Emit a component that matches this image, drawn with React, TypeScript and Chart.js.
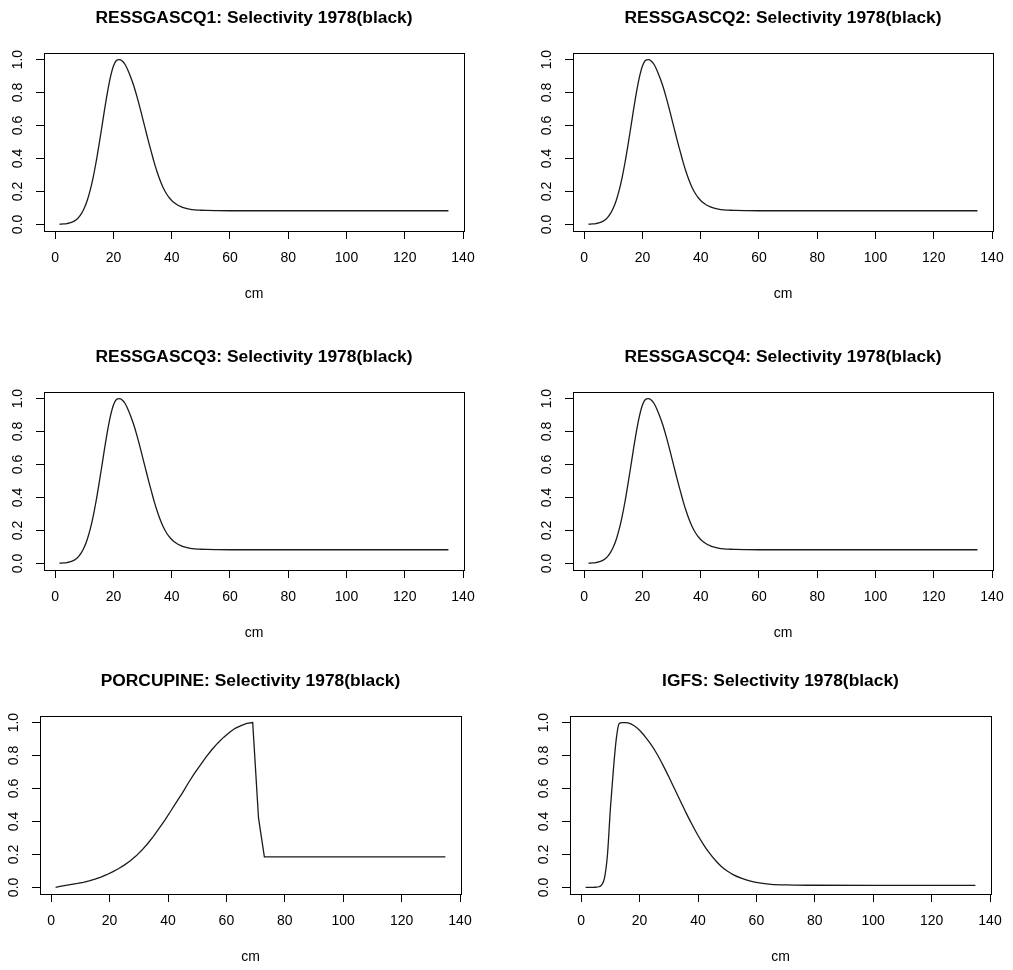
import React, { useEffect, useRef } from "react";
import { Chart, registerables } from "chart.js";

Chart.register(...registerables);

// ---- axis ticks ----
const xTicks = [0, 20, 40, 60, 80, 100, 120, 140];
const yTicks = [0, 0.2, 0.4, 0.6, 0.8, 1.0];
const xLabel = "cm";
const X_MIN = -3.84;
const X_MAX = 140.34;
const Y_MIN = -0.04;
const Y_MAX = 1.04;

// ---- RESSGASCQ1..4 (identical selectivity curves) ----
const ressLengths = [
  1.5, 3, 4, 5, 6, 7, 8, 9, 10, 11,
  12, 13, 14, 15, 16, 17, 18, 19, 20, 21,
  22, 23, 24, 25, 26, 27, 28, 29, 30, 31,
  32, 33, 34, 35, 36, 37, 38, 39, 40, 41,
  42, 43, 44, 46, 48, 50, 52, 55, 60, 70,
  80, 100, 120, 135,
];
const ressSelectivity = [
  0.001, 0.003, 0.005, 0.009, 0.015, 0.025, 0.041, 0.065, 0.099, 0.145,
  0.206, 0.283, 0.374, 0.478, 0.589, 0.702, 0.807, 0.896, 0.961, 0.994,
  1.0, 0.992, 0.97, 0.934, 0.89, 0.84, 0.78, 0.715, 0.645, 0.575,
  0.505, 0.44, 0.375, 0.318, 0.268, 0.226, 0.192, 0.165, 0.145, 0.13,
  0.118, 0.109, 0.102, 0.093, 0.088, 0.086, 0.085, 0.084, 0.083, 0.083,
  0.083, 0.083, 0.083, 0.083,
];

// ---- PORCUPINE ----
const porcupineLengths = [
  1.5, 3, 5, 7, 9, 11, 13, 15, 17, 19,
  21, 23, 25, 27, 29, 31, 33, 35, 37, 39,
  41, 43, 45, 47, 49, 51, 53, 55, 57, 59,
  61, 63, 65, 67, 69, 71, 73, 80, 100, 120, 135,
];
const porcupineSelectivity = [
  0.0, 0.006, 0.012, 0.018, 0.024, 0.031, 0.039, 0.05, 0.063, 0.077,
  0.094, 0.113, 0.135, 0.16, 0.19, 0.225, 0.265, 0.31, 0.36, 0.41,
  0.465, 0.52, 0.575, 0.635, 0.69, 0.74, 0.79, 0.835, 0.875, 0.91,
  0.94, 0.965, 0.982, 0.995, 1.0, 0.42, 0.185, 0.185, 0.185, 0.185, 0.185,
];

// ---- IGFS ----
const igfsLengths = [
  1.5, 3, 4, 5, 6, 7, 8, 9, 10, 11,
  12, 13, 14, 15, 16, 18, 20, 22, 24, 26,
  28, 30, 32, 34, 36, 38, 40, 42, 44, 46,
  48, 50, 52, 55, 58, 61, 65, 70, 80, 100, 135,
];
const igfsSelectivity = [
  0, 0, 0, 0.001, 0.004, 0.015, 0.06, 0.2, 0.48, 0.71,
  0.9, 0.995, 1.0, 1.0, 0.998, 0.982, 0.953, 0.912, 0.865, 0.808,
  0.742, 0.671, 0.597, 0.523, 0.449, 0.38, 0.315, 0.257, 0.206, 0.163,
  0.127, 0.099, 0.078, 0.055, 0.038, 0.027, 0.019, 0.015, 0.013, 0.012, 0.012,
];

const surveyNames = ["RESSGASCQ1", "RESSGASCQ2", "RESSGASCQ3", "RESSGASCQ4", "PORCUPINE", "IGFS"];
const titleSuffix = ": Selectivity 1978(black)";

const FONT = "'Liberation Sans', Arial, Helvetica, sans-serif";

const boxPlugin = {
  id: "rbox",
  afterDraw(chart: any) {
    const { ctx, chartArea } = chart;
    const l = Math.round(chartArea.left) + 0.5;
    const t = Math.round(chartArea.top) + 0.5;
    const w = Math.round(chartArea.right) - Math.round(chartArea.left);
    const h = Math.round(chartArea.bottom) - Math.round(chartArea.top);
    ctx.save();
    ctx.strokeStyle = "#000";
    ctx.lineWidth = 1;
    ctx.strokeRect(l, t, w, h);
    ctx.restore();
  },
};

type PanelProps = {
  title: string;
  lengths: number[];
  values: number[];
  left: number;
  top: number;
  plotWidth: number;
  smooth: boolean;
};

function Panel({ title, lengths, values, left, top, plotWidth, smooth }: PanelProps) {
  const ref = useRef<HTMLCanvasElement>(null);
  const width = plotWidth + 88;
  const height = 323;

  useEffect(() => {
    const gridOpts = {
      display: true,
      drawOnChartArea: false,
      drawTicks: true,
      tickLength: 8,
      color: "#000",
      lineWidth: 1,
    };
    const chart = new Chart(ref.current as HTMLCanvasElement, {
      type: "line",
      data: {
        datasets: [
          {
            data: lengths.map((x, i) => ({ x, y: values[i] })),
            borderColor: "#1a1a1a",
            borderWidth: 1.3,
            pointRadius: 0,
            tension: 0,
            cubicInterpolationMode: smooth ? "monotone" : "default",
            fill: false,
          },
        ],
      },
      options: {
        responsive: false,
        animation: false,
        events: [],
        layout: { padding: { left: 0, right: 44, top: 0, bottom: 20 } },
        plugins: {
          legend: { display: false },
          tooltip: { enabled: false },
          title: {
            display: true,
            fullSize: false,
            text: title,
            color: "#000",
            font: { family: FONT, size: 17.4, weight: "bold", lineHeight: 1.2 },
            padding: { top: 8, bottom: 24.1 },
          },
        },
        scales: {
          x: {
            type: "linear",
            min: X_MIN,
            max: X_MAX,
            afterBuildTicks: (s: any) => {
              s.ticks = xTicks.map((v) => ({ value: v }));
            },
            afterFit: (s: any) => {
              s.height = 72;
            },
            grid: gridOpts,
            border: { display: false },
            ticks: {
              color: "#000",
              font: { family: FONT, size: 14, lineHeight: 1.2 },
              padding: 11,
              maxRotation: 0,
              minRotation: 0,
              autoSkip: false,
              callback: (v: any) => String(v),
            },
            title: {
              display: true,
              text: xLabel,
              color: "#000",
              font: { family: FONT, size: 14, lineHeight: 1.2 },
              padding: { top: 0, bottom: 0 },
            },
          },
          y: {
            type: "linear",
            min: Y_MIN,
            max: Y_MAX,
            afterBuildTicks: (s: any) => {
              s.ticks = yTicks.map((v) => ({ value: v }));
            },
            afterFit: (s: any) => {
              s.width = 44;
            },
            grid: gridOpts,
            border: { display: false },
            ticks: {
              color: "#000",
              font: { family: FONT, size: 14, lineHeight: 1.2 },
              padding: 8,
              minRotation: 90,
              maxRotation: 90,
              crossAlign: "center",
              autoSkip: false,
              callback: (v: any) => Number(v).toFixed(1),
            },
          },
        },
      } as any,
      plugins: [boxPlugin],
    });
    return () => chart.destroy();
  }, [title, lengths, values, smooth]);

  return (
    <canvas
      ref={ref}
      width={width}
      height={height}
      style={{ position: "absolute", left, top, width, height }}
    />
  );
}

const panels = [
  { name: surveyNames[0], lengths: ressLengths, values: ressSelectivity, left: 0, top: 0, plotWidth: 420, smooth: true },
  { name: surveyNames[1], lengths: ressLengths, values: ressSelectivity, left: 529, top: 0, plotWidth: 420, smooth: true },
  { name: surveyNames[2], lengths: ressLengths, values: ressSelectivity, left: 0, top: 339, plotWidth: 420, smooth: true },
  { name: surveyNames[3], lengths: ressLengths, values: ressSelectivity, left: 529, top: 339, plotWidth: 420, smooth: true },
  { name: surveyNames[4], lengths: porcupineLengths, values: porcupineSelectivity, left: -4, top: 663, plotWidth: 421, smooth: false },
  { name: surveyNames[5], lengths: igfsLengths, values: igfsSelectivity, left: 526, top: 663, plotWidth: 421, smooth: true },
];

export default function App() {
  return (
    <div
      style={{
        position: "absolute",
        left: 0,
        top: 0,
        width: 1013,
        height: 970,
        background: "#fff",
        overflow: "hidden",
      }}
    >
      {panels.map((p) => (
        <Panel
          key={p.name}
          title={p.name + titleSuffix}
          lengths={p.lengths}
          values={p.values}
          left={p.left}
          top={p.top}
          plotWidth={p.plotWidth}
          smooth={p.smooth}
        />
      ))}
    </div>
  );
}
